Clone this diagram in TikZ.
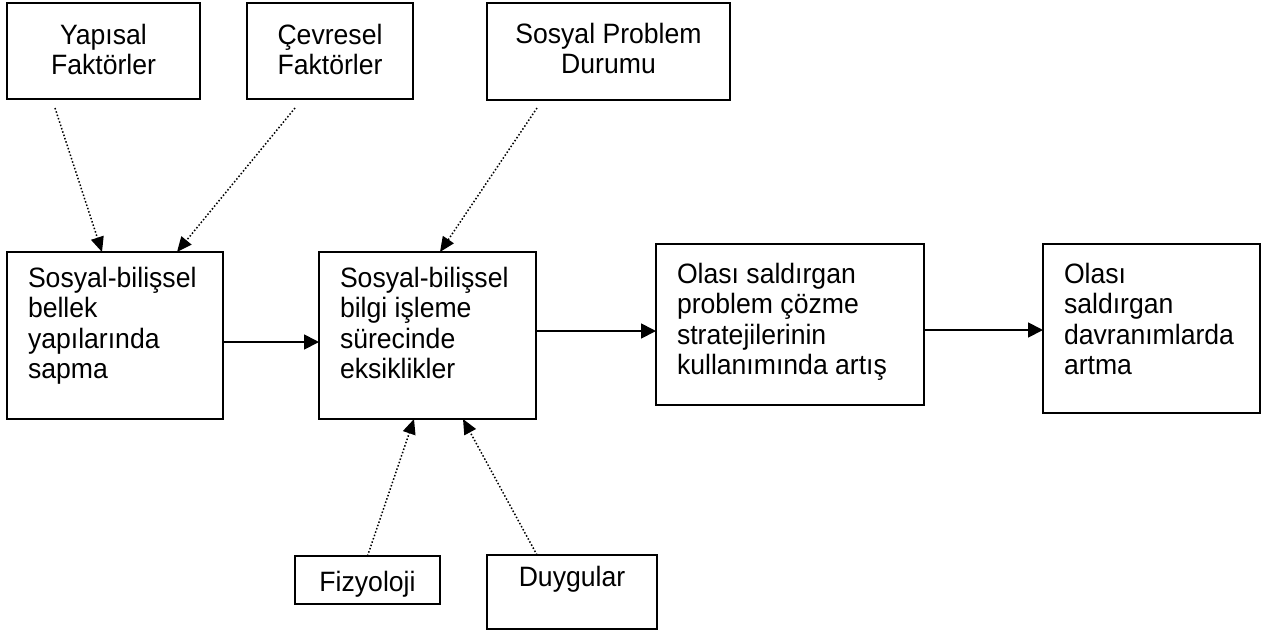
\documentclass[tikz,border=0pt]{standalone}
\usepackage{fontspec}
\setmainfont{Liberation Sans}[FakeStretch=0.95]
\usetikzlibrary{arrows.meta,calc}
\begin{document}
\begin{tikzpicture}[x=1pt,y=-1pt,
  box/.style={draw=black, line width=1.8pt, inner sep=0pt, outer sep=0pt, anchor=north west},
  lbl/.style={inner sep=0pt, outer sep=0pt, font=\fontsize{28}{30.5}\selectfont},
  solidarr/.style={line width=1.8pt, -{Triangle[length=15pt,width=15pt]}},
  dotarr/.style={line width=1.5pt, dash pattern=on 1.5pt off 2pt, -{Triangle[length=15pt,width=13pt]}}]
\useasboundingbox (0,0) rectangle (1266,630);
% boxes
\node[box, minimum width=193pt, minimum height=96pt] (Y) at (7,3) {};
\node[box, minimum width=166pt, minimum height=96pt] (C) at (247,3) {};
\node[box, minimum width=243pt, minimum height=97pt] (S) at (487,3) {};
\node[box, minimum width=216pt, minimum height=167pt] (B) at (7,252) {};
\node[box, minimum width=217pt, minimum height=167pt] (I) at (319,252) {};
\node[box, minimum width=268pt, minimum height=161pt] (O) at (656,244) {};
\node[box, minimum width=217pt, minimum height=169pt] (D) at (1043,244) {};
\node[box, minimum width=145pt, minimum height=48pt] (F) at (295,556) {};
\node[box, minimum width=170pt, minimum height=74pt] (G) at (487,555) {};
% texts
\node[lbl, anchor=north, align=center] (Yt) at ($(Y.north)+(0,21)$) {Yapısal\\Faktörler};
\node[lbl, anchor=north, align=center] (Ct) at ($(C.north)+(0,21)$) {Çevresel\\Faktörler};
\node[lbl, anchor=north, align=center] (St) at ($(S.north)+(0,20)$) {Sosyal Problem\\Durumu};
\node[lbl, anchor=north west, align=left] (Bt) at ($(B.north west)+(21,15)$) {Sosyal-bilişsel\\bellek\\yapılarında\\sapma};
\node[lbl, anchor=north west, align=left] (It) at ($(I.north west)+(21,15)$) {Sosyal-bilişsel\\bilgi işleme\\sürecinde\\eksiklikler};
\node[lbl, anchor=north west, align=left] (Ot) at ($(O.north west)+(21,19)$) {Olası saldırgan\\problem çözme\\stratejilerinin\\kullanımında artış};
\node[lbl, anchor=north west, align=left] (Dt) at ($(D.north west)+(21,19)$) {Olası\\saldırgan\\davranımlarda\\artma};
\node[lbl, anchor=north, align=center] (Ft) at ($(F.north)+(0,15)$) {Fizyoloji};
\node[lbl, anchor=north, align=center] (Gt) at ($(G.north)+(0,11)$) {Duygular};
% solid connectors
\coordinate (bi) at ($(B.north east)+(0,90)$);
\draw[solidarr] (bi) -- (bi -| I.west);
\coordinate (io) at ($(I.north east)+(0,79)$);
\draw[solidarr] (io) -- (io -| O.west);
\coordinate (od) at ($(O.north east)+(0,86)$);
\draw[solidarr] (od) -- (od -| D.west);
% dotted connectors
\coordinate (ys) at ($(Y.south west)+(48,9)$);
\draw[dotarr] (ys) -- ($(B.north west)+(95,0)$);
\coordinate (cs) at ($(C.south west)+(48,9)$);
\draw[dotarr] (cs) -- ($(B.north west)+(170,0)$);
\coordinate (ss) at ($(S.south west)+(50,8)$);
\draw[dotarr] (ss) -- ($(I.north west)+(121,0)$);
\draw[dotarr] (F.north) -- ($(I.south west)+(95,0)$);
\coordinate (gs) at ($(G.north west)+(50,0)$);
\draw[dotarr] (gs) -- ($(I.south west)+(144,0)$);
\end{tikzpicture}
\end{document}
